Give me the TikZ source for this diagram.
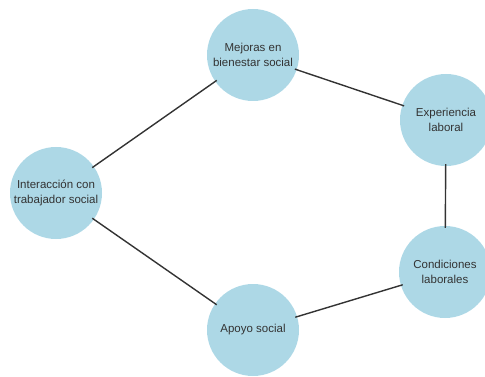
\documentclass[tikz,border=0pt]{standalone}
\usepackage{fontspec}
\setmainfont{Liberation Sans}
\definecolor{bubble}{HTML}{ADD8E6}
\definecolor{ink}{HTML}{333333}
\begin{document}
\begin{tikzpicture}[x=1pt,y=-1pt,
  bubblenode/.style={circle,fill=bubble,draw=none,minimum size=92pt,inner sep=0pt,
    align=center,text=ink,font=\fontsize{11.5}{15}\selectfont},
  link/.style={draw=ink,line width=1.4pt,shorten <=-2pt,shorten >=-2pt}]
\useasboundingbox (0,0) rectangle (485,377);
\node[bubblenode] (mej) at (253,55) {Mejoras en\\bienestar social};
\node[bubblenode] (exp) at (446,120) {Experiencia\\laboral};
\node[bubblenode] (int) at (56,193) {Interacción con\\trabajador social};
\node[bubblenode] (con) at (445,272) {Condiciones\\laborales};
\node[bubblenode] (apo) at (253,330) {Apoyo social};
\draw[link] (mej) -- (exp);
\draw[link] (exp) -- (con);
\draw[link] (con) -- (apo);
\draw[link] (apo) -- (int);
\draw[link] (int) -- (mej);
\end{tikzpicture}
\end{document}
